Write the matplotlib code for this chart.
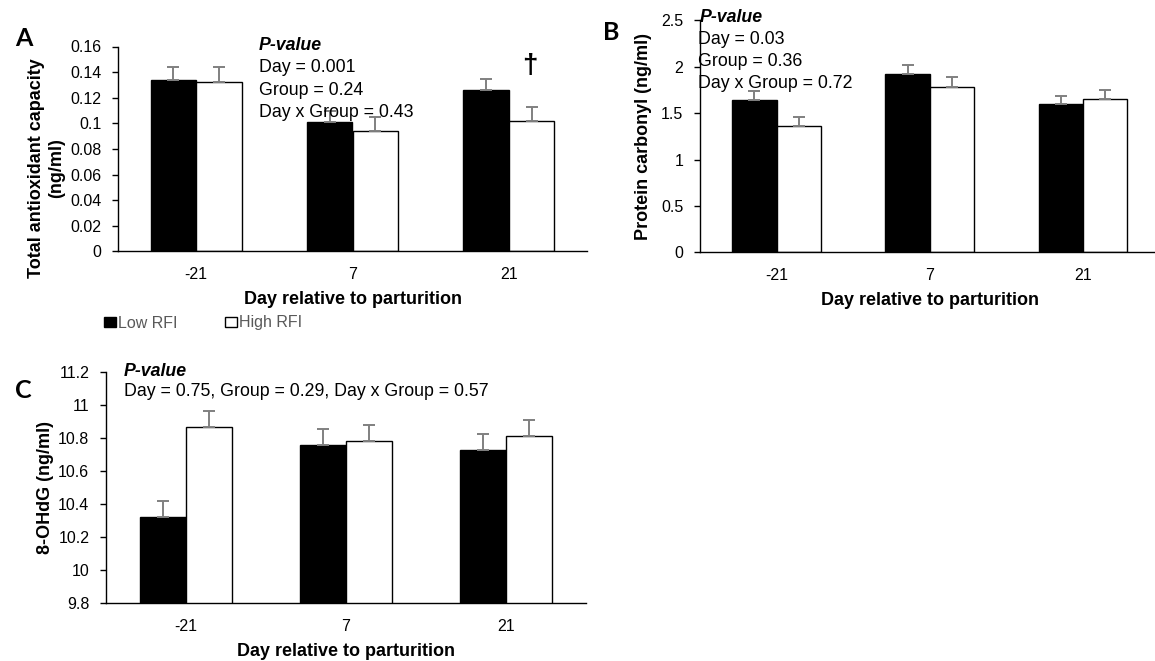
import numpy as np
import matplotlib
matplotlib.use("Agg")
import matplotlib.pyplot as plt

# ---- data ----
days = ["-21", "7", "21"]
groups = ["Low RFI", "High RFI"]

tac_low = [0.134, 0.101, 0.126]
tac_low_se = [0.010, 0.009, 0.009]
tac_high = [0.132, 0.094, 0.102]
tac_high_se = [0.012, 0.011, 0.011]

pc_low = [1.64, 1.92, 1.60]
pc_low_se = [0.10, 0.10, 0.09]
pc_high = [1.36, 1.78, 1.65]
pc_high_se = [0.10, 0.11, 0.10]

ohdg_low = [10.32, 10.76, 10.73]
ohdg_low_se = [0.10, 0.095, 0.095]
ohdg_high = [10.865, 10.785, 10.81]
ohdg_high_se = [0.10, 0.095, 0.10]

pvals_a = ["Day = 0.001", "Group = 0.24", "Day x Group = 0.43"]
pvals_b = ["Day = 0.03", "Group = 0.36", "Day x Group = 0.72"]
pvals_c = "Day = 0.75, Group = 0.29, Day x Group = 0.57"

W, H = 1155, 661
DPI = 100
plt.rcParams["font.family"] = ["Liberation Sans", "DejaVu Sans"]

fig = plt.figure(figsize=(W / DPI, H / DPI), dpi=DPI)


def px_axes(x0, x1, y_bottom, y_top):
    """Create axes from pixel edges (y measured from top of the image)."""
    return fig.add_axes([x0 / W, 1 - y_bottom / H, (x1 - x0) / W, (y_bottom - y_top) / H])


def ftext(x, y, s, **kw):
    fig.text(x / W, 1 - y / H, s, **kw)


TICK_FS = 11.5
LABEL_FS = 13
PV_FS = 12.8
ERR_COLOR = "#808080"
BW = 0.29


def draw_panel(ax, low, low_se, high, high_se, ylim, yticks, yfmt):
    x = np.arange(len(days))
    err_kw = dict(ecolor=ERR_COLOR, elinewidth=1.4, capsize=4.5, capthick=1.4)
    b1 = ax.bar(x - BW / 2, low, BW, color="black", edgecolor="black", linewidth=1,
                yerr=[np.zeros(3), low_se], error_kw=err_kw, zorder=2, label=groups[0])
    b2 = ax.bar(x + BW / 2, high, BW, color="white", edgecolor="black", linewidth=1,
                yerr=[np.zeros(3), high_se], error_kw=err_kw, zorder=2, label=groups[1])
    ax.set_xlim(-0.5, 2.5)
    ax.set_ylim(*ylim)
    ax.set_yticks(yticks)
    ax.set_yticklabels([yfmt(v) for v in yticks])
    ax.set_xticks(x)
    ax.set_xticklabels(days)
    for s in ("top", "right"):
        ax.spines[s].set_visible(False)
    for s in ("left", "bottom"):
        ax.spines[s].set_linewidth(1.0)
        ax.spines[s].set_color("black")
    ax.tick_params(axis="y", length=4, width=1, pad=8, labelsize=TICK_FS)
    ax.tick_params(axis="x", length=0, pad=11, labelsize=TICK_FS)
    ax.set_xlabel("Day relative to parturition", fontsize=LABEL_FS, fontweight="bold", labelpad=6.5)
    return b1, b2


def fmt_plain(v):
    return ("%.2f" % v).rstrip("0").rstrip(".")


# Panel A: total antioxidant capacity
axA = px_axes(118, 587, 251.5, 46.5)
bA1, bA2 = draw_panel(axA, tac_low, tac_low_se, tac_high, tac_high_se,
                      (0, 0.16), np.arange(0, 0.161, 0.02), fmt_plain)
ftext(47, 168, "Total antioxidant capacity\n(ng/ml)", rotation=90, ha="center", va="center",
      fontsize=LABEL_FS, fontweight="bold", linespacing=1.25)
ftext(259, 45, "P-value", fontsize=PV_FS, fontweight="bold", style="italic", ha="left", va="center")
for i, s in enumerate(pvals_a):
    ftext(259, 68 + 22.3 * i, s, fontsize=PV_FS, ha="left", va="center")
ftext(530, 66, "\u2020", fontsize=20, fontweight="bold", ha="center", va="center")
ftext(15, 39, "A", fontsize=18, fontweight="bold", family="Lato", ha="left", va="center")

# Panel B: protein carbonyl
axB = px_axes(700, 1159.6, 252.3, 20.5)
draw_panel(axB, pc_low, pc_low_se, pc_high, pc_high_se,
           (0, 2.5), np.arange(0, 2.51, 0.5), fmt_plain)
ftext(643, 136, "Protein carbonyl (ng/ml)", rotation=90, ha="center", va="center",
      fontsize=LABEL_FS, fontweight="bold")
ftext(700, 17, "P-value", fontsize=PV_FS, fontweight="bold", style="italic", ha="left", va="center")
for i, s in enumerate(pvals_b):
    ftext(698, 40 + 22 * i, s, fontsize=PV_FS, ha="left", va="center")
ftext(603, 33, "B", fontsize=18, fontweight="bold", family="Lato", ha="left", va="center")

# Panel C: 8-OHdG
axC = px_axes(106, 586, 603.3, 372)
draw_panel(axC, ohdg_low, ohdg_low_se, ohdg_high, ohdg_high_se,
           (9.8, 11.2), np.round(np.arange(9.8, 11.21, 0.2), 1),
           lambda v: ("%.1f" % v).rstrip("0").rstrip("."))
ftext(45, 487, "8-OHdG (ng/ml)", rotation=90, ha="center", va="center",
      fontsize=LABEL_FS, fontweight="bold")
ftext(124, 372, "P-value", fontsize=PV_FS, fontweight="bold", style="italic", ha="left", va="center")
ftext(124, 392, pvals_c, fontsize=PV_FS, ha="left", va="center")
ftext(15, 390, "C", fontsize=18, fontweight="bold", family="Lato", ha="left", va="center")

# Shared legend under panel A
leg = fig.legend([bA1, bA2], groups, loc="center left",
                 bbox_to_anchor=(104 / W, 1 - 323 / H), ncol=2, frameon=False,
                 fontsize=TICK_FS, handlelength=0.75, handleheight=0.6,
                 handletextpad=0.1, columnspacing=3.0, borderaxespad=0, borderpad=0)
for t in leg.get_texts():
    t.set_color("#595959")

fig.savefig("out.png", dpi=DPI)
